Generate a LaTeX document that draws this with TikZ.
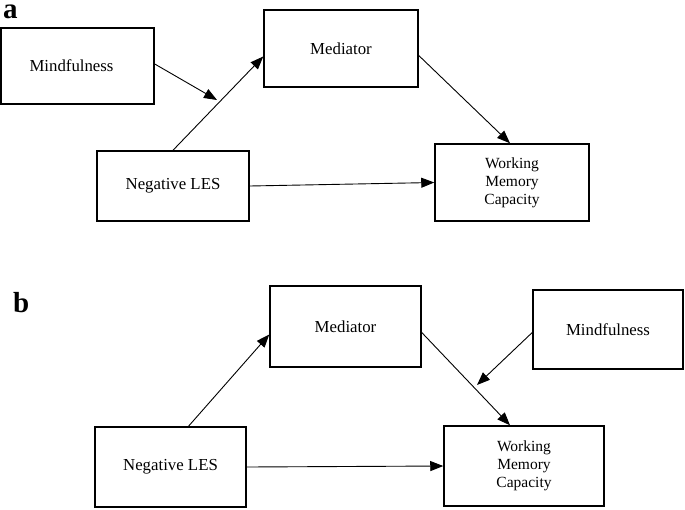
\documentclass[tikz,border=0pt]{standalone}
\usepackage{fontspec}
\setmainfont{Liberation Serif}
\usetikzlibrary{arrows.meta,positioning}

\tikzset{
  varbox/.style={draw, line width=1.5pt, align=center, inner sep=0pt,
    font=\fontsize{16.8}{19}\selectfont},
  smallbox/.style={varbox, font=\fontsize{15.5}{18}\selectfont},
  path arrow/.style={line width=0.9pt, -{Triangle[length=13pt,width=10pt]}},
  panel label/.style={anchor=base west, inner sep=0pt, text height=14pt,
    font=\fontsize{29}{30}\selectfont\bfseries}
}

\begin{document}
\begin{tikzpicture}[x=1pt,y=-1pt]
\useasboundingbox (0,0) rectangle (685,509);

% panel a
\node[panel label] (laba) at (3,18) {a};
\node[varbox, minimum width=153pt, minimum height=76pt] (minda) at (77.5,66) {\hspace*{-12pt}Mindfulness};
\node[varbox, minimum width=154pt, minimum height=77pt] (meda) at (341,48.5) {\raisebox{-6pt}{Mediator}};
\node[varbox, minimum width=152pt, minimum height=70pt] (nlesa) at (173,186) {Negative LES};
\node[smallbox, minimum width=154pt, minimum height=77pt] (wmca) at (512,182.5) {Working\\Memory\\Capacity};
\coordinate (ma) at (217,100);

% draw paths of panel a
\draw[path arrow] ([yshift=2pt]minda.east) -- (ma);
\draw[path arrow] (nlesa.north) -- ([yshift=-8pt]meda.west);
\draw[path arrow] ([yshift=-7pt]meda.east) -- ([xshift=-2pt]wmca.north);
\draw[path arrow] (nlesa.east) -- (wmca.west);

% panel b
\node[panel label] (labb) at (13,312) {b};
\node[varbox, minimum width=151pt, minimum height=81pt] (medb) at (345.5,326.5) {Mediator};
\node[varbox, minimum width=150pt, minimum height=79pt] (mindb) at (608,329.5) {\raisebox{-3pt}{Mindfulness}};
\node[varbox, minimum width=151pt, minimum height=80pt] (nlesb) at (170.5,467) {Negative LES};
\node[smallbox, minimum width=160pt, minimum height=80pt] (wmcb) at (524,466) {Working\\Memory\\Capacity};
\coordinate (mb) at (477,385);

% draw paths of panel b
\draw[path arrow] ([xshift=18pt]nlesb.north) -- ([yshift=-8pt]medb.west);
\draw[path arrow] ([yshift=-6pt]medb.east) -- ([xshift=-14pt]wmcb.north);
\draw[path arrow] ([yshift=-3pt]mindb.west) -- (mb);
\draw[path arrow] (nlesb.east) -- (wmcb.west);
\end{tikzpicture}
\end{document}
